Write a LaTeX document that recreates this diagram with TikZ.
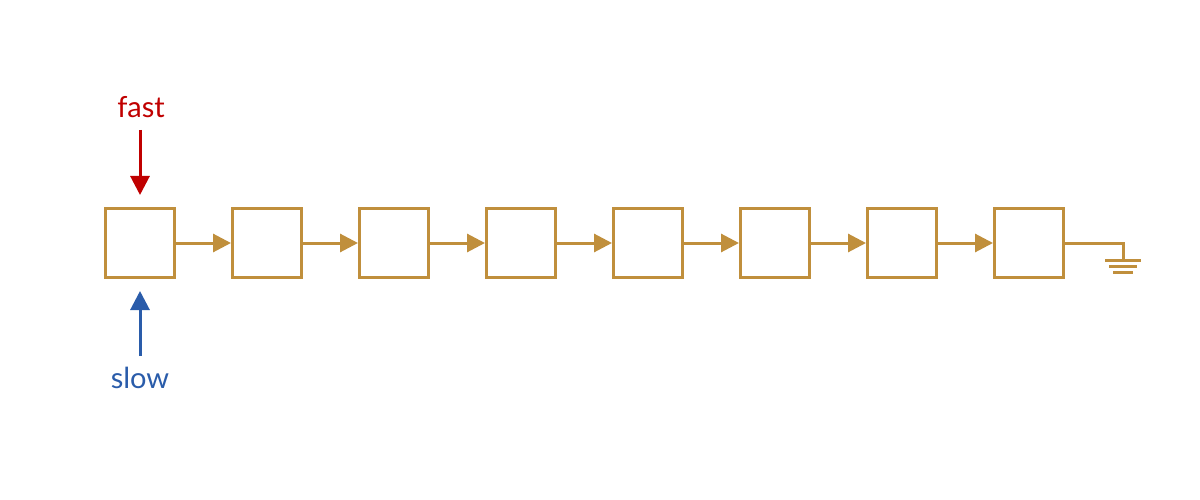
\documentclass[tikz,border=0pt]{standalone}
\usepackage{fontspec}
\setmainfont{Lato}
\usetikzlibrary{arrows.meta}
\definecolor{gold}{HTML}{C08F3C}
\definecolor{fastred}{HTML}{C00000}
\definecolor{slowblue}{HTML}{2A5CAA}
\begin{document}
\begin{tikzpicture}[x=1pt,y=-1pt,
  cell/.style={draw=gold,line width=3pt,minimum width=69pt,minimum height=69pt,inner sep=0pt},
  link/.style={draw=gold,line width=3pt,-{Triangle[length=18pt,width=18pt]}},
  pointer/.style={line width=3pt,shorten >=12pt,-{Triangle[length=19pt,width=19pt]}},
  lbl/.style={font=\fontsize{29}{34}\selectfont,inner sep=0pt}]
\useasboundingbox (0,0) rectangle (1200,500);
\foreach \i in {0,...,7}{
  \node[cell] (n\i) at (140+127*\i,243) {};
}
\foreach \i [evaluate=\i as \j using int(\i+1)] in {0,...,6}{
  \draw[link] (n\i.east) -- (n\j.west);
}
\coordinate (g) at (1123,260);
\draw[gold,line width=3pt] (n7.east) -| (g);
\draw[gold,line width=3pt] (1105,260) -- (1141,260);
\draw[gold,line width=3pt] (1109,266) -- (1137,266);
\draw[gold,line width=3pt] (1113,272) -- (1133,272);
\node[lbl,text=fastred] (fast) at (141,107) {fast};
\node[lbl,text=slowblue] (slow) at (140,378) {slow};
\draw[pointer,fastred] (140,130) -- (n0.north);
\draw[pointer,slowblue] (140,356) -- (n0.south);
\end{tikzpicture}
\end{document}
